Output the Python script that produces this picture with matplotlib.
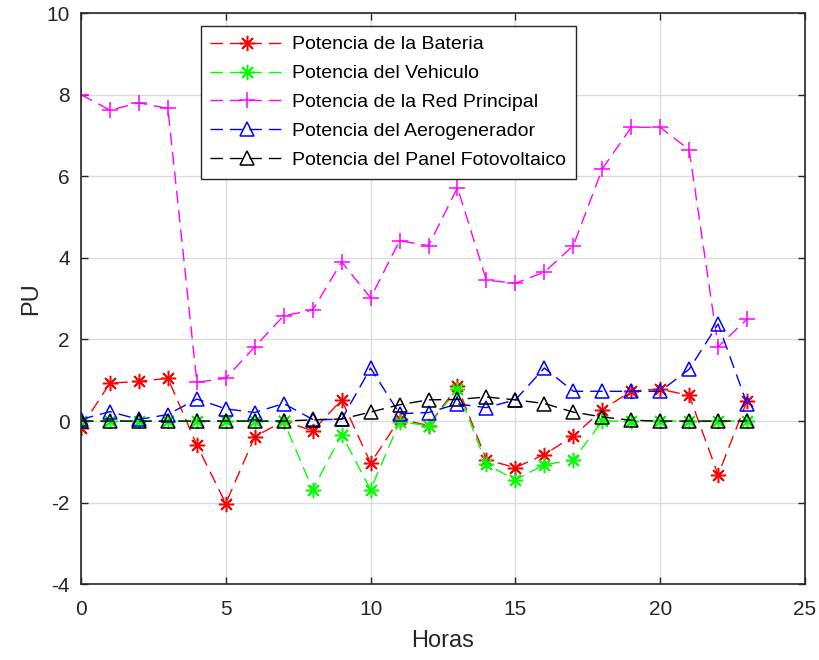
import numpy as np
import matplotlib
matplotlib.use("Agg")
import matplotlib.pyplot as plt

plt.rcParams['font.family'] = ['Liberation Sans', 'DejaVu Sans']
plt.rcParams['axes.unicode_minus'] = False

horas = np.arange(24)

bateria = [-0.16, 0.93, 0.97, 1.05, -0.59, -2.02, -0.38, 0.0, -0.24, 0.52,
           -1.03, 0.05, -0.11, 0.85, -0.95, -1.14, -0.82, -0.37, 0.27, 0.74,
           0.78, 0.63, -1.32, 0.5]
vehiculo = [0.0, 0.0, 0.0, 0.0, 0.0, 0.0, 0.0, 0.0, -1.68, -0.33,
            -1.68, -0.02, -0.11, 0.78, -1.06, -1.44, -1.07, -0.95, 0.0, 0.0,
            0.0, 0.0, 0.0, 0.0]
red_principal = [8.0, 7.62, 7.8, 7.66, 0.95, 1.05, 1.82, 2.58, 2.72, 3.9,
                 3.02, 4.42, 4.3, 5.72, 3.45, 3.38, 3.65, 4.3, 6.18, 7.2,
                 7.2, 6.65, 1.82, 2.5]
aerogenerador = [0.04, 0.23, 0.04, 0.16, 0.54, 0.3, 0.21, 0.43, 0.04, 0.04,
                 1.3, 0.18, 0.21, 0.42, 0.33, 0.52, 1.3, 0.73, 0.73, 0.73,
                 0.73, 1.27, 2.38, 0.42]
panel = [0.0, 0.0, 0.0, 0.0, 0.0, 0.0, 0.0, 0.0, 0.03, 0.05,
         0.22, 0.4, 0.52, 0.53, 0.59, 0.52, 0.43, 0.22, 0.1, 0.02,
         0.0, 0.0, 0.0, 0.0]

series = [
    (bateria, 'Potencia de la Bateria', (1, 0, 0), (8, 2, 0), 11),
    (vehiculo, 'Potencia del Vehiculo', (0, 1, 0), (8, 2, 0), 11),
    (red_principal, 'Potencia de la Red Principal', (1, 0, 1), '+', 12),
    (aerogenerador, 'Potencia del Aerogenerador', (0, 0, 1), '^', 9.5),
    (panel, 'Potencia del Panel Fotovoltaico', (0, 0, 0), '^', 9.5),
]

fig = plt.figure(figsize=(8.19, 6.6), dpi=100)
ax = fig.add_axes([0.0989, 0.1147, 0.884, 0.8656])

for vals, name, col, mk, ms in series:
    ax.plot(horas, vals, color=col, linestyle='--', dashes=(9, 5), linewidth=1.0,
            marker=mk, markersize=ms, markerfacecolor='none', markeredgecolor=col,
            markeredgewidth=1.1, label=name)

ax.set_xlim(0, 25)
ax.set_ylim(-4, 10)
ax.set_xticks(np.arange(0, 26, 5))
ax.set_yticks(np.arange(-4, 11, 2))
ax.grid(True, color='#dcdcdc', linewidth=1.0)
ax.set_axisbelow(True)
ax.tick_params(direction='in', top=True, right=True, labelsize=15,
               colors='#262626', length=5, width=1.0, pad=8)
ax.tick_params(axis='x', pad=11)
for s in ax.spines.values():
    s.set_color('#262626')
    s.set_linewidth(1.2)

ax.set_xlabel('Horas', fontsize=17, color='#262626', labelpad=8)
ax.set_ylabel('PU', fontsize=17, color='#262626', labelpad=3)

leg = ax.legend(loc='upper left', bbox_to_anchor=(0.1653, 0.977), borderaxespad=0,
                fontsize=14, handlelength=3.8, labelspacing=0.58, fancybox=False,
                framealpha=1, edgecolor='#262626', borderpad=0.5, handletextpad=0.4)
leg.get_frame().set_linewidth(1.0)

fig.savefig('out.png', dpi=100)
